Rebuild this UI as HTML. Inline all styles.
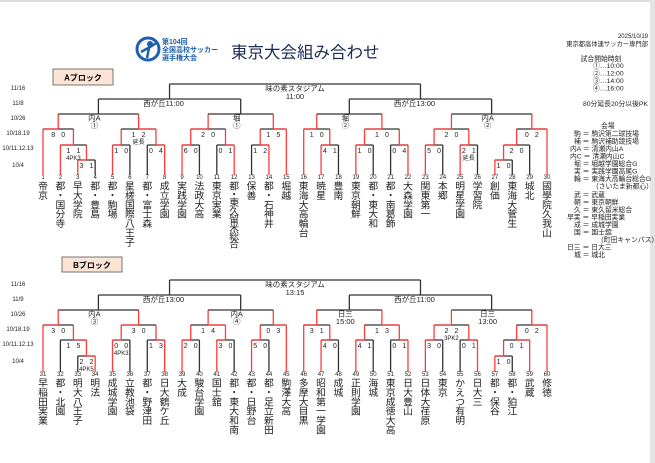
<!DOCTYPE html>
<html><head><meta charset="utf-8">
<style>
html,body{margin:0;padding:0;background:#fff;}
svg{display:block;font-family:"Liberation Sans","Noto Sans CJK JP",sans-serif;}
</style></head>
<body>
<svg id="s" width="655" height="463" viewBox="0 0 655 463" xmlns="http://www.w3.org/2000/svg">
<rect x="0" y="0" width="655" height="463" fill="#fff"/>
<rect x="0" y="0" width="655" height="2" fill="#ddd"/>
<rect x="650" y="0" width="5" height="463" fill="#e4e4e4"/>
<circle cx="148" cy="49" r="11" fill="none" stroke="#1d5fb0" stroke-width="3"/>
<circle cx="150" cy="44" r="3" fill="#1d5fb0"/>
<path d="M141 52 L150 47 L158 42 M149 48 L147 58" stroke="#1d5fb0" stroke-width="2.5" fill="none"/>
<text x="162" y="44" font-size="7" font-weight="bold" fill="#1d5fb0">第104回</text>
<text x="162" y="52" font-size="7" font-weight="bold" fill="#1d5fb0">全国高校サッカー</text>
<text x="162" y="60" font-size="7" font-weight="bold" fill="#1d5fb0">選手権大会</text>
<text x="231" y="58" font-size="16.5" fill="#1a2a55">東京大会組み合わせ</text>
<g font-size="6.8" fill="#222">
<text x="648" y="38" text-anchor="end" font-size="6">2025/10/19</text>
<text x="648" y="46" text-anchor="end" font-size="6.3">東京都高体連サッカー専門部</text>
<text x="601" y="61" text-anchor="middle">試合開始時刻</text>
<text x="593" y="68">①…10:00</text>
<text x="593" y="75.5">②…12:00</text>
<text x="593" y="83">③…14:00</text>
<text x="593" y="90.5">④…16:00</text>
<text x="583" y="106">80分延長20分以後PK</text>
<text x="601" y="128">会場</text>
<text x="574" y="136">駒 ＝ 駒沢第二球技場</text>
<text x="574" y="143.5">補 ＝ 駒沢補助競技場</text>
<text x="570" y="151">内A ＝ 清瀬内山A</text>
<text x="570" y="158.5">内C ＝ 清瀬内山C</text>
<text x="574" y="166">堀 ＝ 堀越学園総合G</text>
<text x="574" y="173.5">実 ＝ 実践学園高尾G</text>
<text x="574" y="181">輪 ＝ 東海大高輪台総合G</text>
<text x="592" y="188.5">（さいたま新都心）</text>
<text x="574" y="197">武 ＝ 武蔵</text>
<text x="574" y="204.5">朝 ＝ 東京朝鮮</text>
<text x="574" y="212">久 ＝ 東久留米総合</text>
<text x="567" y="219.5">早実 ＝ 早稲田実業</text>
<text x="574" y="227">成 ＝ 成城学園</text>
<text x="574" y="234.5">国 ＝ 国士舘</text>
<text x="597" y="242">（町田キャンパス）</text>
<text x="567" y="249.5">日三 ＝ 日大三</text>
<text x="574" y="257">城 ＝ 城北</text>
</g>
<rect x="53" y="69" width="60" height="16" fill="#fbe4d5" stroke="#777" stroke-width="1"/>
<text x="83" y="80.5" font-size="8" font-weight="bold" text-anchor="middle">Aブロック</text>
<rect x="62" y="257" width="60" height="15" fill="#fbe4d5" stroke="#777" stroke-width="1"/>
<text x="92" y="268" font-size="8" font-weight="bold" text-anchor="middle">Bブロック</text>
<g id="g"></g>
</svg>
<script>
const NS="http://www.w3.org/2000/svg";
const G=document.getElementById('g');
const RED="#ff3b3b",BLK="#333";
function el(t,a,txt){const e=document.createElementNS(NS,t);for(const k in a)e.setAttribute(k,a[k]);if(txt!=null)e.textContent=txt;G.appendChild(e);return e;}
function line(x1,y1,x2,y2,c){el('line',{x1,y1,x2,y2,stroke:c,'stroke-width':1.3});}
function txt(x,y,s,fs,anc){el('text',{x,y,'font-size':fs,'text-anchor':anc||'middle',fill:'#222'},s);}
function X(i){return 43+(i-(i>30?31:1))*17.38;}
function m(r,l,rr,sl,sr,w,note,label){return {r,l,rr,sl,sr,w,note,label};}
function draw(n,Y,top){
  if(typeof n==='number') return {x:X(n),top:top,leaf:true};
  const a=draw(n.l,Y,top), b=draw(n.rr,Y,top);
  const y=Y[n.r], mid=(a.x+b.x)/2;
  const decided=n.w!=null;
  [[a,0],[b,1]].forEach(([c,s])=>{
    const red=c.leaf?(n.w===s):c.decided;
    line(c.x,c.top,c.x,y,red?RED:BLK);
  });
  line(a.x,y,b.x,y,BLK);
  if(decided){const wx=n.w===0?a.x:b.x;line(wx,y,mid,y,RED);}
  if(n.sl!=null){txt(mid-5,y+8,String(n.sl),7);txt(mid+5,y+8,String(n.sr),7);}
  if(n.note)txt(mid,y+15,n.note,6);
  if(n.label){
    if(n.r===0){txt(mid,y+7,n.label[0],7.5);txt(mid,y+15,n.label[1],7.5);}
    else if(n.r===1){txt(mid-6,y+7,n.label[0],7.5);}
    else{txt(mid-4,y+6.5,n.label[0],7.5);if(n.label[1])txt(mid-4,y+14,n.label[1],7.5);}
  }
  return {x:mid,top:y,decided};
}
const A=m(0,
 m(1,
  m(2,
   m(3,1,m(4,2,m(5,3,4,3,1,0),1,1,0,'4PK3'),8,0,0),
   m(3,m(4,5,6,1,0,0),m(4,7,8,0,4,1),1,2,1,'延長'),null,null,null,null,['内A','①']),
  m(2,
   m(3,m(4,9,10,6,0,0),m(4,11,12,0,1,1),2,0,0),
   m(3,m(4,13,14,1,2,1),15,1,5,1),null,null,null,null,['堀','①']),
  null,null,null,null,['西が丘11:00']),
 m(1,
  m(2,
   m(3,16,m(4,17,18,4,1,0),1,0,0),
   m(3,m(4,19,20,1,0,0),m(4,21,22,0,4,1),1,0,0),null,null,null,null,['堀','②']),
  m(2,
   m(3,m(4,23,24,5,0,0),m(4,25,26,2,1,0,'延長'),2,0,0),
   m(3,m(4,m(5,27,28,1,0,0),29,2,0,0),30,0,2,1),null,null,null,null,['内A','②']),
  null,null,null,null,['西が丘13:00']),
 null,null,null,null,['味の素スタジアム','11:00']);
const B=m(0,
 m(1,
  m(2,
   m(3,31,m(4,32,m(5,33,34,2,2,1,'4PK5'),1,5,1),3,0,0),
   m(3,m(4,35,36,0,0,0,'4PK3'),m(4,37,38,1,3,1),3,0,0),null,null,null,null,['内A','③']),
  m(2,
   m(3,m(4,39,40,2,0,0),m(4,41,42,3,0,0),1,4,1),
   m(3,m(4,43,44,5,0,0),45,0,3,1),null,null,null,null,['内A','④']),
  null,null,null,null,['西が丘13:00']),
 m(1,
  m(2,
   m(3,46,m(4,47,48,4,0,0),3,1,0),
   m(3,m(4,49,50,4,1,0),m(4,51,52,0,1,1),1,3,1),null,null,null,null,['日三','15:00']),
  m(2,
   m(3,m(4,53,54,3,0,0),m(4,55,56,0,1,1),2,2,0,'3PK2'),
   m(3,m(4,m(5,57,58,1,0,0),59,0,1,1),60,0,2,1),null,null,null,null,['日三','13:00']),
  null,null,null,null,['西が丘11:00']),
 null,null,null,null,['味の素スタジアム','13:15']);
draw(A,[84,99,114,129,145,160],175);
draw(B,[280,295,310,325,340,356],372);
const names=["帝京","都・国分寺","早大学院","都・豊島","都・駒場","星槎国際八王子","都・富士森","成立学園","実践学園","法政大高","東京実業","都・東久留米総合","保善","都・石神井","堀越","東海大高輪台","暁星","豊南","東京朝鮮","都・東大和","都・南葛飾","大森学園","関東第一","本郷","明星学園","学習院","創価","東海大菅生","城北","國學院久我山",
"早稲田実業","都・北園","明大八王子","明法","成城学園","立教池袋","都・野津田","日大鶴ケ丘","大成","駿台学園","国士舘","都・東大和南","都・日野台","都・足立新田","駒澤大高","多摩大目黒","昭和第一学園","成城","正則学園","海城","東京成徳大高","日大豊山","日体大荏原","東京","かえつ有明","日大三","都・保谷","都・狛江","武蔵","修徳"];
names.forEach((nm,i)=>{
  const n=i+1,x=X(n),b=n>30?376:179;
  txt(x,b,String(n),6);
  const chars=[...nm];const step=chars.length>=8?8.3:9.4;
  chars.forEach((c,j)=>txt(x,b+10.5+j*step,c,9.8));
});
const dA=["11/16","11/8","10/26","10/18.19","10/11.12.13","10/4"],yA=[90,105,120,135,150,167];
const dB=["11/16","11/9","10/26","10/18.19","10/11.12.13","10/4"],yB=[286,301,316,331,346,363];
dA.forEach((d,i)=>txt(18,yA[i],d,6));
dB.forEach((d,i)=>txt(18,yB[i],d,6));
</script>
</body></html>
